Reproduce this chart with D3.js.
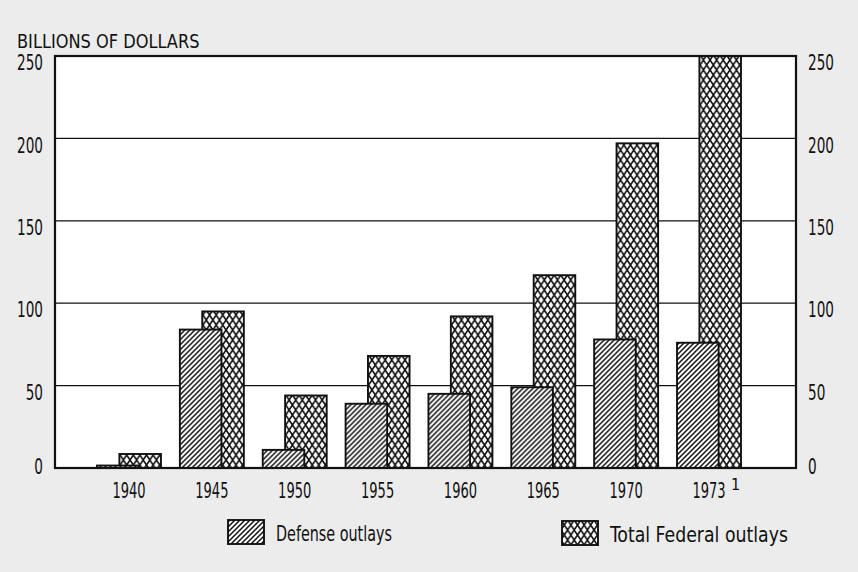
<!DOCTYPE html>
<html>
<head>
<meta charset="utf-8">
<script src="https://cdn.jsdelivr.net/npm/d3@7/dist/d3.min.js"></script>
<style>
  html, body { margin: 0; padding: 0; background: #ececec; }
  svg { display: block; }
  text { font-family: "DejaVu Sans Condensed", "Liberation Sans Narrow", sans-serif; fill: #111; }
</style>
</head>
<body>
<svg id="chart" width="858" height="572"></svg>
<script>
// ---- data ----
const years = ["1940", "1945", "1950", "1955", "1960", "1965", "1970", "1973"];
const defenseOutlays = [1.5, 84, 11, 39, 45, 49, 78, 76];
const totalOutlays = [8.5, 95, 44, 68, 92, 117, 197, 250];
const yTicks = [0, 50, 100, 150, 200, 250];
const gridTicks = [50, 100, 150, 200];
const seriesNames = ["Defense outlays", "Total Federal outlays"];
const footnoteYear = "1973";
const footnoteMark = "1";
const yTitle = "BILLIONS OF DOLLARS";

// ---- layout ----
const svg = d3.select("#chart");
const pL = 55, pR = 796, pT = 56, pB = 468;

const x = d3.scaleBand().domain(years).range([pL, 783]).paddingInner(0.228).paddingOuter(0.507);
const y = d3.scaleLinear().domain([0, 250]).range([pB, pT]);
const bw = x.bandwidth();
const barW = bw * 0.65;
const sub = d3.scaleOrdinal().domain(["total", "defense"]).range([bw * 0.35, 0]);

// squeeze text horizontally to mimic the narrow typeface
function condense(sel, k) {
  sel.each(function () {
    const w = this.getComputedTextLength();
    d3.select(this).attr("textLength", w * k).attr("lengthAdjust", "spacingAndGlyphs");
  });
}
function fitWidth(sel, wfn) {
  sel.each(function (d) {
    d3.select(this).attr("textLength", wfn(d)).attr("lengthAdjust", "spacingAndGlyphs");
  });
}

// patterns
const defs = svg.append("defs");
const hatch = defs.append("pattern").attr("id", "hatch").attr("patternUnits", "userSpaceOnUse")
  .attr("width", 5).attr("height", 5);
hatch.append("rect").attr("width", 5).attr("height", 5).attr("fill", "#fff");
hatch.append("path").attr("d", "M-1,6 L6,-1 M-1,1 L1,-1 M4,6 L6,4").attr("stroke", "#111").attr("stroke-width", 1.5);

const cross = defs.append("pattern").attr("id", "cross").attr("patternUnits", "userSpaceOnUse")
  .attr("width", 6.6).attr("height", 10);
cross.append("rect").attr("width", 6.6).attr("height", 10).attr("fill", "#fff");
cross.append("path").attr("d", "M0,0 L6.6,10 M6.6,0 L0,10").attr("stroke", "#111").attr("stroke-width", 1.6);

// plot background
svg.append("rect").attr("x", pL).attr("y", pT).attr("width", pR - pL).attr("height", pB - pT).attr("fill", "#fff");

// gridlines
svg.append("g").selectAll("line").data(gridTicks).join("line")
  .attr("x1", pL).attr("x2", pR)
  .attr("y1", d => y(d)).attr("y2", d => y(d))
  .attr("stroke", "#111").attr("stroke-width", 1.3);

// bars: total behind, defense in front
const groups = svg.append("g").selectAll("g").data(years).join("g")
  .attr("transform", d => `translate(${x(d)},0)`);

groups.append("rect")
  .attr("x", sub("total")).attr("width", barW)
  .attr("y", (d, i) => y(totalOutlays[i]))
  .attr("height", (d, i) => y(0) - y(totalOutlays[i]))
  .attr("fill", "url(#cross)").attr("stroke", "#111").attr("stroke-width", 1.9);

groups.append("rect")
  .attr("x", sub("defense")).attr("width", barW)
  .attr("y", (d, i) => y(defenseOutlays[i]))
  .attr("height", (d, i) => y(0) - y(defenseOutlays[i]))
  .attr("fill", "url(#hatch)").attr("stroke", "#111").attr("stroke-width", 1.9);

// frame
svg.append("rect").attr("x", pL).attr("y", pT).attr("width", pR - pL).attr("height", pB - pT)
  .attr("fill", "none").attr("stroke", "#111").attr("stroke-width", 2.2);

// axes
const fs = 21;
const yl = svg.append("g").attr("transform", `translate(${pL},0)`)
  .call(d3.axisLeft(y).tickValues(yTicks).tickSize(0).tickPadding(12));
yl.select(".domain").remove();
yl.selectAll("text").attr("font-size", fs).attr("dy", "0.32em")
  .attr("transform", d => `translate(0,${d === 0 ? -1 : 7})`);
condense(yl.selectAll("text"), 0.72);

const yr = svg.append("g").attr("transform", `translate(${pR},0)`)
  .call(d3.axisRight(y).tickValues(yTicks).tickSize(0).tickPadding(12));
yr.select(".domain").remove();
yr.selectAll("text").attr("font-size", fs).attr("dy", "0.32em")
  .attr("transform", d => `translate(0,${d === 0 ? -1 : 7})`);
condense(yr.selectAll("text"), 0.72);

const xa = svg.append("g").attr("transform", `translate(0,${pB})`)
  .call(d3.axisBottom(x).tickSize(0).tickPadding(14));
xa.select(".domain").remove();
xa.selectAll("text").attr("font-size", 22).attr("transform", "scale(0.66,1)");

// footnote mark on 1973
svg.append("text").attr("x", x(footnoteYear) + bw / 2 + 22).attr("y", 490)
  .attr("font-size", 16).text(footnoteMark);

// y title
const title = svg.append("text").attr("x", 17).attr("y", 48).attr("font-size", 20).text(yTitle);
condense(title, 0.9);

// legend
const legend = [
  { name: seriesNames[0], fill: "url(#hatch)", sx: 228, sy: 520, tx: 276, ty: 541, w: 116 },
  { name: seriesNames[1], fill: "url(#cross)", sx: 562, sy: 521, tx: 610, ty: 542, w: 178 }
];
const lg = svg.append("g").selectAll("g").data(legend).join("g");
lg.append("rect").attr("x", d => d.sx).attr("y", d => d.sy).attr("width", 36).attr("height", 24)
  .attr("fill", d => d.fill).attr("stroke", "#111").attr("stroke-width", 1.9);
const lt = lg.append("text").attr("x", d => d.tx).attr("y", d => d.ty).attr("font-size", 21).text(d => d.name);
fitWidth(lt, d => d.w);
</script>
</body>
</html>
